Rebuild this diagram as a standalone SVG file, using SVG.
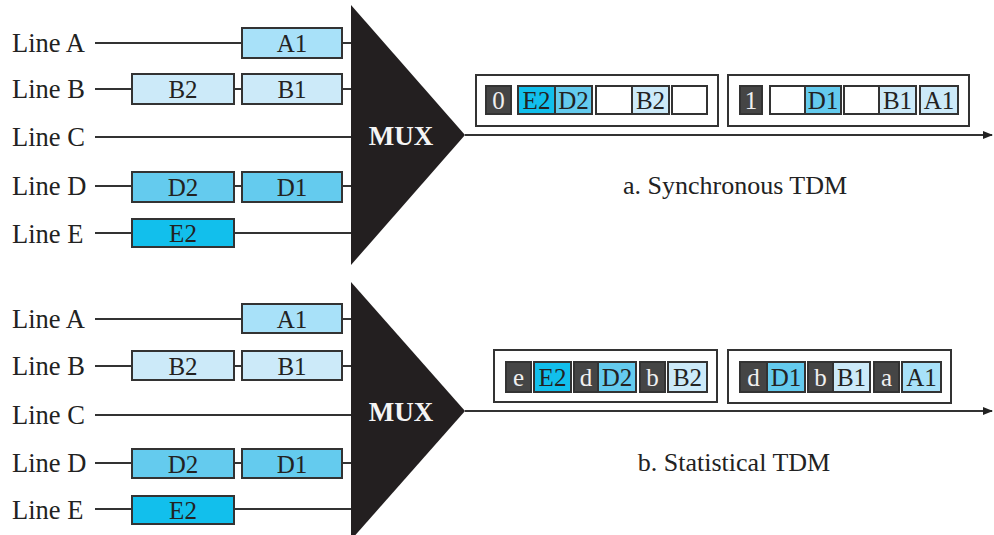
<svg xmlns="http://www.w3.org/2000/svg" width="994" height="535" viewBox="0 0 994 535">
<defs>
<style>
text{font-family:"Liberation Serif","Times New Roman",serif;fill:#222}
.lbl{font-size:26.5px}
.bt{font-size:25px;text-anchor:middle}
.cap{font-size:26px;text-anchor:middle}
.mux{font-size:27px;font-weight:bold;fill:#f4f4f4;text-anchor:middle}
.wt{fill:#f0f0f0}
.ln{stroke:#333;stroke-width:2;fill:none}
.bx{stroke:#333;stroke-width:2}
.a{fill:#a8e1f9}.b{fill:#cceaf9}.d{fill:#64cbee}.e{fill:#12bfec}.w{fill:#fff}.k{fill:#454545}
.fr{fill:#fff;stroke:#333;stroke-width:2}
</style>
<marker id="arr" markerWidth="10" markerHeight="10" refX="9" refY="5" orient="auto" markerUnits="userSpaceOnUse">
<path d="M0,1 L10,5 L0,9 Z" fill="#222"/>
</marker>
</defs>

<g id="connectors">
<path class="ln" d="M95,43H352M95,89H352M95,137H352M95,186H352M95,233H352"/>
<path class="ln" d="M95,319H352M95,366H352M95,415H352M95,463H352M95,509H352"/>
<path class="ln" d="M465,135H992" marker-end="url(#arr)"/>
<path class="ln" d="M465,411H992" marker-end="url(#arr)"/>
</g>

<g id="panel-a-inputs">
<text class="lbl" x="12" y="52">Line A</text>
<text class="lbl" x="12" y="98">Line B</text>
<text class="lbl" x="12" y="146">Line C</text>
<text class="lbl" x="12" y="195">Line D</text>
<text class="lbl" x="12" y="243">Line E</text>
<g id="a-A1"><rect class="bx a" x="242" y="28" width="100" height="30"/><text class="bt" x="292" y="52">A1</text></g>
<g id="a-B2"><rect class="bx b" x="132" y="74" width="102" height="30"/><text class="bt" x="183" y="98">B2</text></g>
<g id="a-B1"><rect class="bx b" x="242" y="74" width="100" height="30"/><text class="bt" x="292" y="98">B1</text></g>
<g id="a-D2"><rect class="bx d" x="132" y="172" width="102" height="30"/><text class="bt" x="183" y="196">D2</text></g>
<g id="a-D1"><rect class="bx d" x="242" y="172" width="100" height="30"/><text class="bt" x="292" y="196">D1</text></g>
<g id="a-E2"><rect class="bx e" x="132" y="219" width="102" height="28"/><text class="bt" x="183" y="242">E2</text></g>
</g>

<g id="mux-a">
<polygon points="351,5 465,135 351,265" fill="#231f20"/>
<text class="mux" x="401" y="145">MUX</text>
</g>

<g id="frame-a1">
<rect class="fr" x="476" y="75" width="242" height="51"/>
<rect class="bx k" x="486" y="86" width="25" height="28"/><text class="bt wt" x="498.5" y="109">0</text>
<rect class="bx e" x="518" y="86" width="37" height="28"/><text class="bt" x="536.5" y="109">E2</text>
<rect class="bx d" x="555" y="86" width="37" height="28"/><text class="bt" x="573.5" y="109">D2</text>
<rect class="bx w" x="596" y="86" width="36" height="28"/>
<rect class="bx b" x="632" y="86" width="37" height="28"/><text class="bt" x="650.5" y="109">B2</text>
<rect class="bx w" x="672" y="86" width="35" height="28"/>
</g>
<g id="frame-a2">
<rect class="fr" x="728" y="75" width="241" height="51"/>
<rect class="bx k" x="740" y="86" width="22" height="28"/><text class="bt wt" x="751" y="109">1</text>
<rect class="bx w" x="770" y="86" width="35" height="28"/>
<rect class="bx d" x="805" y="86" width="36" height="28"/><text class="bt" x="823" y="109">D1</text>
<rect class="bx w" x="844" y="86" width="35" height="28"/>
<rect class="bx b" x="879" y="86" width="37" height="28"/><text class="bt" x="897.5" y="109">B1</text>
<rect class="bx b" x="920" y="86" width="38" height="28"/><text class="bt" x="939" y="109">A1</text>
</g>
<text class="cap" x="735" y="194">a. Synchronous TDM</text>

<g id="panel-b-inputs">
<text class="lbl" x="12" y="328">Line A</text>
<text class="lbl" x="12" y="375">Line B</text>
<text class="lbl" x="12" y="424">Line C</text>
<text class="lbl" x="12" y="472">Line D</text>
<text class="lbl" x="12" y="519">Line E</text>
<g id="b-A1"><rect class="bx a" x="242" y="304" width="100" height="29"/><text class="bt" x="292" y="328">A1</text></g>
<g id="b-B2"><rect class="bx b" x="132" y="351" width="102" height="29"/><text class="bt" x="183" y="375">B2</text></g>
<g id="b-B1"><rect class="bx b" x="242" y="351" width="100" height="29"/><text class="bt" x="292" y="375">B1</text></g>
<g id="b-D2"><rect class="bx d" x="132" y="449" width="102" height="29"/><text class="bt" x="183" y="473">D2</text></g>
<g id="b-D1"><rect class="bx d" x="242" y="449" width="100" height="29"/><text class="bt" x="292" y="473">D1</text></g>
<g id="b-E2"><rect class="bx e" x="132" y="496" width="102" height="28"/><text class="bt" x="183" y="519">E2</text></g>
</g>

<g id="mux-b">
<polygon points="351,282 465,411 351,540" fill="#231f20"/>
<text class="mux" x="401" y="421">MUX</text>
</g>

<g id="frame-b1">
<rect class="fr" x="494" y="350" width="223" height="52"/>
<rect class="bx k" x="506" y="362" width="25" height="30"/><text class="bt wt" x="518.5" y="386">e</text>
<rect class="bx e" x="534" y="362" width="37" height="30"/><text class="bt" x="552.5" y="386">E2</text>
<rect class="bx k" x="574" y="362" width="24" height="30"/><text class="bt wt" x="586" y="386">d</text>
<rect class="bx d" x="598" y="362" width="38" height="30"/><text class="bt" x="617" y="386">D2</text>
<rect class="bx k" x="640" y="362" width="25" height="30"/><text class="bt wt" x="652.5" y="386">b</text>
<rect class="bx b" x="668" y="362" width="39" height="30"/><text class="bt" x="687.5" y="386">B2</text>
</g>
<g id="frame-b2">
<rect class="fr" x="728" y="350" width="223" height="53"/>
<rect class="bx k" x="740" y="362" width="27" height="30"/><text class="bt wt" x="753.5" y="386">d</text>
<rect class="bx d" x="767" y="362" width="38" height="30"/><text class="bt" x="786" y="386">D1</text>
<rect class="bx k" x="808" y="362" width="25" height="30"/><text class="bt wt" x="820.5" y="386">b</text>
<rect class="bx b" x="833" y="362" width="37" height="30"/><text class="bt" x="851.5" y="386">B1</text>
<rect class="bx k" x="874" y="362" width="25" height="30"/><text class="bt wt" x="886.5" y="386">a</text>
<rect class="bx a" x="902" y="362" width="39" height="30"/><text class="bt" x="921.5" y="386">A1</text>
</g>
<text class="cap" x="734" y="471">b. Statistical TDM</text>
</svg>
